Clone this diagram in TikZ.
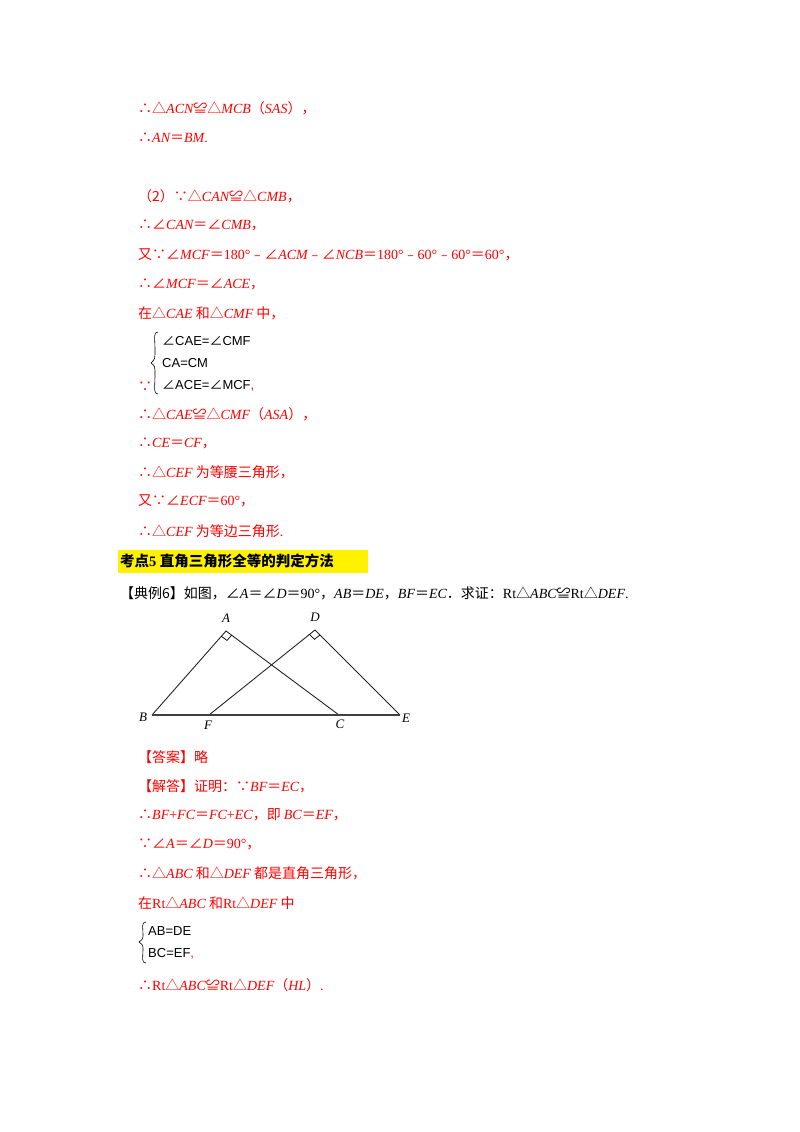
\documentclass[tikz,border=0pt]{standalone}
\usepackage{fontspec}
\usetikzlibrary{calc}
\setmainfont{Liberation Serif}
\newfontfamily\cjk{Noto Sans CJK SC}
\newfontfamily\lsans{Liberation Sans}
\newcommand\I[1]{{\rmfamily\itshape #1}}
\newcommand\R[1]{{\rmfamily\upshape #1}}
\definecolor{ansred}{HTML}{FF0000}
\tikzset{
  ln/.style={anchor=west,inner sep=0pt,font=\cjk\fontsize{14}{17}\selectfont,text=ansred},
  bk/.style={ln,text=black},
  sys/.style={anchor=west,inner sep=0pt,font=\lsans\fontsize{13}{15}\selectfont,text=black},
  fig/.style={line width=0.9pt,black!85},
  lbl/.style={inner sep=0pt,font=\rmfamily\itshape\fontsize{13}{15}\selectfont}
}
\begin{document}
\begin{tikzpicture}[x=1pt,y=-1pt]
\useasboundingbox (0,0) rectangle (800,1132);
\fill[white] (0,0) rectangle (800,1132);
\node[ln] (l1) at (138,108) {∴△\I{ACN}≌△\I{MCB}（\I{SAS}），};
\node[ln] (l2) at (138,138) {∴\I{AN}＝\I{BM}\R{.}};
\node[ln] (l3) at (138,196) {（2）∵△\I{CAN}≌△\I{CMB}，};
\node[ln] (l4) at (138,225) {∴∠\I{CAN}＝∠\I{CMB}，};
\node[ln] (l5) at (138,255) {又∵∠\I{MCF}＝\R{180°}﹣∠\I{ACM}﹣∠\I{NCB}＝\R{180°}﹣\R{60°}﹣\R{60°}＝\R{60°}，};
\node[ln] (l6) at (138,284) {∴∠\I{MCF}＝∠\I{ACE}，};
\node[ln] (l7) at (138,313) {在△\I{CAE} 和△\I{CMF} 中，};
\node[sys] (s1) at (162,341) {\cjk∠\lsans CAE=\cjk∠\lsans CMF};
\node[sys] (s2) at (162,363) {CA=CM};
\node[sys] (s3) at (162,386) {\cjk∠\lsans ACE=\cjk∠\lsans MCF\textcolor{ansred}{,}};
\draw[line width=0.6pt] (158,332) .. controls (153,332) and (155,338) .. (155,350) .. controls (155,359) .. (151,363) .. controls (155,366) .. (155,375) .. controls (155,388) and (153,394) .. (158,394);
\node[ln] (l8) at (138,387) {∵};
\node[ln] (l9) at (138,414) {∴△\I{CAE}≌△\I{CMF}（\I{ASA}），};
\node[ln] (l10) at (138,443) {∴\I{CE}＝\I{CF}，};
\node[ln] (l11) at (138,472) {∴△\I{CEF} 为等腰三角形，};
\node[ln] (l12) at (138,501) {又∵∠\I{ECF}＝\R{60°}，};
\node[ln] (l13) at (138,531) {∴△\I{CEF} 为等边三角形\R{.}};
\fill[yellow] (118,550) rectangle (368,573);
\node[bk,font=\cjk\bfseries\fontsize{14.5}{17}\selectfont] (h) at (120,561) {考点\R{\bfseries 5} 直角三角形全等的判定方法};
\node[bk] (q) at (120,593) {【典例6】如图，∠\I{A}＝∠\I{D}＝\R{90°}，\I{AB}＝\I{DE}，\I{BF}＝\I{EC}．求证：\R{Rt}△\I{ABC}≌\R{Rt}△\I{DEF}\R{.}};
% figure
\coordinate (A) at (226,631);
\coordinate (D) at (315,630);
\coordinate (B) at (152,715);
\coordinate (F) at (209,715);
\coordinate (C) at (339,715);
\coordinate (E) at (400,715);
\draw[fig] (B) -- (A) -- (C);
\draw[fig] (F) -- (D) -- (E);
\draw[line width=1.4pt,black!75] (B) -- (E);
\draw[line width=0.7pt] ($(A)!7pt!(B)$) -- ($(A)!7pt!(B)+(A)!7pt!(C)-(A)$) -- ($(A)!7pt!(C)$);
\draw[line width=0.7pt] ($(D)!7pt!(F)$) -- ($(D)!7pt!(F)+(D)!7pt!(E)-(D)$) -- ($(D)!7pt!(E)$);
\node[lbl] (la) at (226,618) {A};
\node[lbl] (ld) at (315,617) {D};
\node[lbl] (lb) at (143,717) {B};
\node[lbl] (lf) at (208,725) {F};
\node[lbl] (lc) at (340,724) {C};
\node[lbl] (le) at (406,718) {E};
% answer
\node[ln] (a1) at (138,757) {【答案】略};
\node[ln] (a2) at (138,786) {【解答】证明：∵\I{BF}＝\I{EC}，};
\node[ln] (a3) at (138,815) {∴\I{BF}\R{+}\I{FC}＝\I{FC}\R{+}\I{EC}，即 \I{BC}＝\I{EF}，};
\node[ln] (a4) at (138,844) {∵∠\I{A}＝∠\I{D}＝\R{90°}，};
\node[ln] (a5) at (138,873) {∴△\I{ABC} 和△\I{DEF} 都是直角三角形，};
\node[ln] (a6) at (138,903) {在\R{Rt}△\I{ABC} 和\R{Rt}△\I{DEF} 中};
\draw[line width=0.6pt] (146,922) .. controls (141,922) and (143,928) .. (143,934) .. controls (143,939) .. (139,942) .. controls (143,945) .. (143,950) .. controls (143,957) and (141,963) .. (146,963);
\node[sys] (b1) at (148,931) {AB=DE};
\node[sys] (b2) at (148,954) {BC=EF\textcolor{ansred}{,}};
\node[ln] (a7) at (138,985) {∴\R{Rt}△\I{ABC}≌\R{Rt}△\I{DEF}（\I{HL}）\R{.}};
\end{tikzpicture}
\end{document}
